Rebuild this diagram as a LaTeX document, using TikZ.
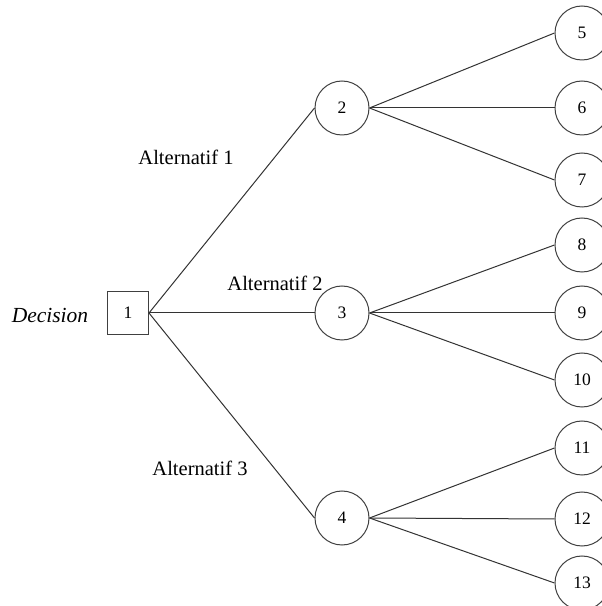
\documentclass[tikz,border=0pt]{standalone}
\usepackage{fontspec}
\setmainfont{Liberation Serif}
\begin{document}
\begin{tikzpicture}[x=1pt,y=1pt,
  chance/.style={draw=black!75,line width=1pt,circle,minimum size=54pt,inner sep=0pt,font=\fontsize{17.5}{19}\selectfont},
  decbox/.style={draw=black!75,line width=1pt,rectangle,minimum width=41pt,minimum height=43pt,inner sep=0pt,font=\fontsize{17.5}{19}\selectfont},
  lbl/.style={font=\fontsize{20.5}{22}\selectfont,inner sep=1pt},
  link/.style={draw=black!80,line width=1pt}]
\useasboundingbox (0,0) rectangle (602,606);
\clip (0,0) rectangle (602,606);
\node[decbox] (n1) at (128,293) {1};
\node[lbl,font=\fontsize{21.5}{23}\selectfont\itshape] (dec) at (50,291) {Decision};
\node[chance] (n2) at (342,498) {2};
\node[chance] (n3) at (342,293) {3};
\node[chance] (n4) at (342,88) {4};
\node[chance] (n5) at (582,573) {5};
\node[chance] (n6) at (582,498) {6};
\node[chance] (n7) at (582,426) {7};
\node[chance] (n8) at (582,361) {8};
\node[chance] (n9) at (582,293) {9};
\node[chance] (n10) at (582,226) {10};
\node[chance] (n11) at (582,158) {11};
\node[chance] (n12) at (582,87) {12};
\node[chance] (n13) at (582,23) {13};
\draw[link] (n1.east) -- (n2.west);
\draw[link] (n1.east) -- (n3.west);
\draw[link] (n1.east) -- (n4.west);
\foreach \a/\b in {2/5,2/6,2/7,3/8,3/9,3/10,4/11,4/12,4/13}
  \draw[link] (n\a.east) -- (n\b.west);
\node[lbl] (a1) at (186,449) {Alternatif 1};
\node[lbl] (a2) at (275,323) {Alternatif 2};
\node[lbl] (a3) at (200,138) {Alternatif 3};
\end{tikzpicture}
\end{document}
